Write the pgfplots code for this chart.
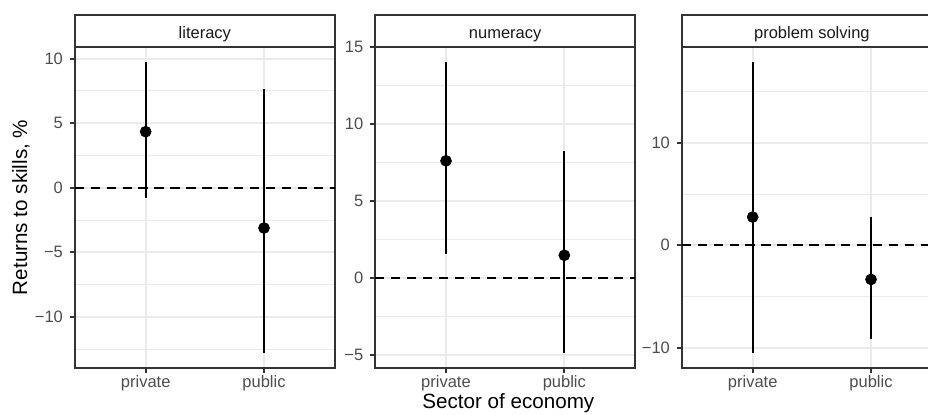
\documentclass[border=0pt]{standalone}
\usepackage{fontspec}
\setmainfont{Liberation Sans}
\usepackage{pgfplots}
\pgfplotsset{compat=1.18}
\usetikzlibrary{calc}
\definecolor{gray20}{HTML}{333333}
\definecolor{gray30}{HTML}{4D4D4D}
\definecolor{gray92}{HTML}{EBEBEB}
\definecolor{gray10}{HTML}{1A1A1A}

\pgfplotsset{
  panel/.style={
    scale only axis, width=138.83pt, height=171.04pt,
    anchor=south west,
    xmin=0.4, xmax=2.6, xtick={1,2}, xticklabels={private,public},
    axis line style={gray20, line width=1.07pt},
    major tick style={gray20, line width=1.07pt},
    tick align=outside, major tick length=2.75pt, minor tick length=0pt,
    tick pos=left,
    ticklabel style={font=\fontsize{8.8}{10}\selectfont, text=gray30},
    xticklabel style={yshift=2.1pt},
    /pgf/number format/assume math mode=true,
    ymajorgrids, xmajorgrids, yminorgrids,
    major grid style={gray92, line width=1.07pt},
    minor grid style={gray92, line width=0.53pt},
  },
  pr/.style={only marks, mark=*, mark size=2.9pt, black,
    error bars/.cd, y dir=both, y explicit, error mark=none,
    error bar style={line width=1.07pt, black}},
  zl/.style={black, line width=1.07pt, dash pattern=on 5pt off 3.5pt},
}
\newcommand{\strip}[2]{%
  \draw[gray20, line width=1.07pt, fill=white] (#1.north west) rectangle ([yshift=17.07pt]#1.north east);
  \node[font=\fontsize{8.8}{10}\selectfont, text=gray10, anchor=base, inner sep=0pt]
    at ([yshift=4.7pt]$(#1.north west)!0.5!(#1.north east)$) {#2};
}

\begin{document}
\begin{tikzpicture}
\path[use as bounding box] (0,0) rectangle (494.93pt,220.8pt);
\clip (0,0) rectangle (494.93pt,220.8pt);

% literacy
\begin{axis}[panel, name=ax1, at={(39.84pt,24.69pt)},
  ymin=-13.94, ymax=10.90,
  ytick={-10,-5,0,5,10}, yticklabels={−10,−5,0,5,10},
  minor ytick={-12.5,-7.5,-2.5,2.5,7.5}]
  \addplot[zl] coordinates {(0.4,0) (2.6,0)};
  \addplot[pr] coordinates {
    (1,4.34) += (0,5.43) -= (0,5.14)
    (2,-3.12) += (0,10.76) -= (0,9.69)
  };
\end{axis}
\strip{ax1}{literacy}

% numeracy
\begin{axis}[panel, name=ax2, at={(200.0pt,24.69pt)},
  ymin=-5.84, ymax=15.01,
  ytick={-5,0,5,10,15}, yticklabels={−5,0,5,10,15},
  minor ytick={-2.5,2.5,7.5,12.5}]
  \addplot[zl] coordinates {(0.4,0) (2.6,0)};
  \addplot[pr] coordinates {
    (1,7.61) += (0,6.43) -= (0,6.03)
    (2,1.47) += (0,6.79) -= (0,6.36)
  };
\end{axis}
\strip{ax2}{numeracy}

% problem solving
\begin{axis}[panel, name=ax3, at={(363.57pt,24.69pt)},
  ymin=-11.96, ymax=19.35,
  ytick={-10,0,10}, yticklabels={−10,0,10},
  minor ytick={-5,5,15}]
  \addplot[zl] coordinates {(0.4,0) (2.6,0)};
  \addplot[pr] coordinates {
    (1,2.75) += (0,15.18) -= (0,13.29)
    (2,-3.34) += (0,6.09) -= (0,5.80)
  };
\end{axis}
\strip{ax3}{problem solving}

\node[font=\fontsize{11}{13}\selectfont, rotate=90] at (11.2pt,110.2pt) {Returns to skills, \%};
\node[font=\fontsize{11}{13}\selectfont] at (271.1pt,5.6pt) {Sector of economy};
\end{tikzpicture}
\end{document}
